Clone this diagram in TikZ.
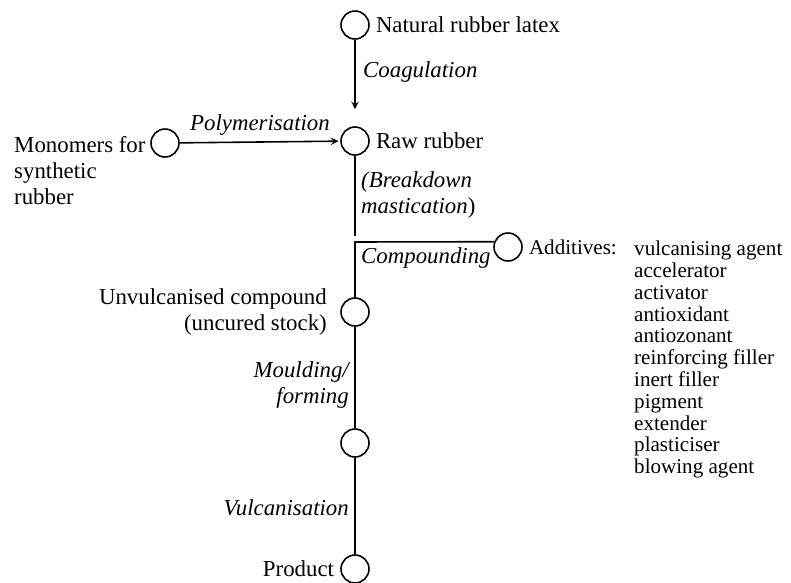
\documentclass[tikz,border=0pt]{standalone}
\usepackage{fontspec}
\setmainfont{Liberation Serif}
\usetikzlibrary{arrows,positioning}
\tikzstyle{stage} = [circle, minimum size=0.56cm, inner sep=0pt, draw=black, line width=0.9pt]
\tikzstyle{stagetext} = [font=\fontsize{13}{14.8}\selectfont]
\tikzstyle{addtext} = [font=\fontsize{12}{12.4}\selectfont]
\tikzstyle{process} = [font=\fontsize{13}{14.8}\selectfont\itshape]
\tikzstyle{link} = [draw=black, line width=0.9pt]
\tikzstyle{arrow} = [->,>=stealth, line width=0.9pt]

\begin{document}
\begin{tikzpicture}[x=0.02cm, y=-0.02cm]
\useasboundingbox (0,0) rectangle (791,582);
% Draw stages
\node (latex) [stage] at (355,25) {};
\node (latexText) [stagetext, right=0pt of latex] {Natural rubber latex};
\node (raw) [stage] at (355,141) {};
\node (rawText) [stagetext, right=0pt of raw] {Raw rubber};
\node (mono) [stage] at (165,143) {};
\node (monoText) [stagetext, align=left, anchor=west] at (8,171)
{Monomers for\\synthetic\\rubber};
\node (add) [stage] at (508,247) {};
\node (addText) [addtext, right=0pt of add] {Additives:};
\node (addList) [addtext, align=left, anchor=north west] at (628,235)
{vulcanising agent\\
accelerator\\
activator\\
antioxidant\\
antiozonant\\
reinforcing filler\\
inert filler\\
pigment\\
extender\\
plasticiser\\
blowing agent};
\node (unv) [stage] at (355,312) {};
\node (unvText) [stagetext, align=right, anchor=east] at (333,312)
{Unvulcanised compound\\(uncured stock)};
\node (mould) [stage] at (355,443) {};
\node (product) [stage] at (355,569) {};
\node (productText) [stagetext, left=0pt of product] {Product};
\coordinate (brk) at (355,236);
\coordinate (corner) at (355,242);
% Draw connectors
\draw [arrow, shorten >=0.34cm] (latex) -- (raw);
\draw [arrow, shorten >=1pt] (mono) -- node [process, above] {Polymerisation} (raw);
\draw [link] (raw) -- (brk);
\draw [link] (add.159) -- (corner) -- (unv);
\draw [link] (unv) -- (mould);
\draw [link] (mould) -- (product);
% Process labels
\node (coag) [process, anchor=west] at (357,72) {Coagulation};
\node (breakdown) [process, align=left, anchor=west] at (355,195)
{(\textit{Breakdown}\\\textit{mastication}\textup{)}};
\node (compounding) [process, anchor=west] at (355,258) {Compounding};
\node (moulding) [process, align=right, anchor=east] at (355,385)
{Moulding/\\forming};
\node (vulc) [process, anchor=east] at (355,508) {Vulcanisation};
\end{tikzpicture}
\end{document}
